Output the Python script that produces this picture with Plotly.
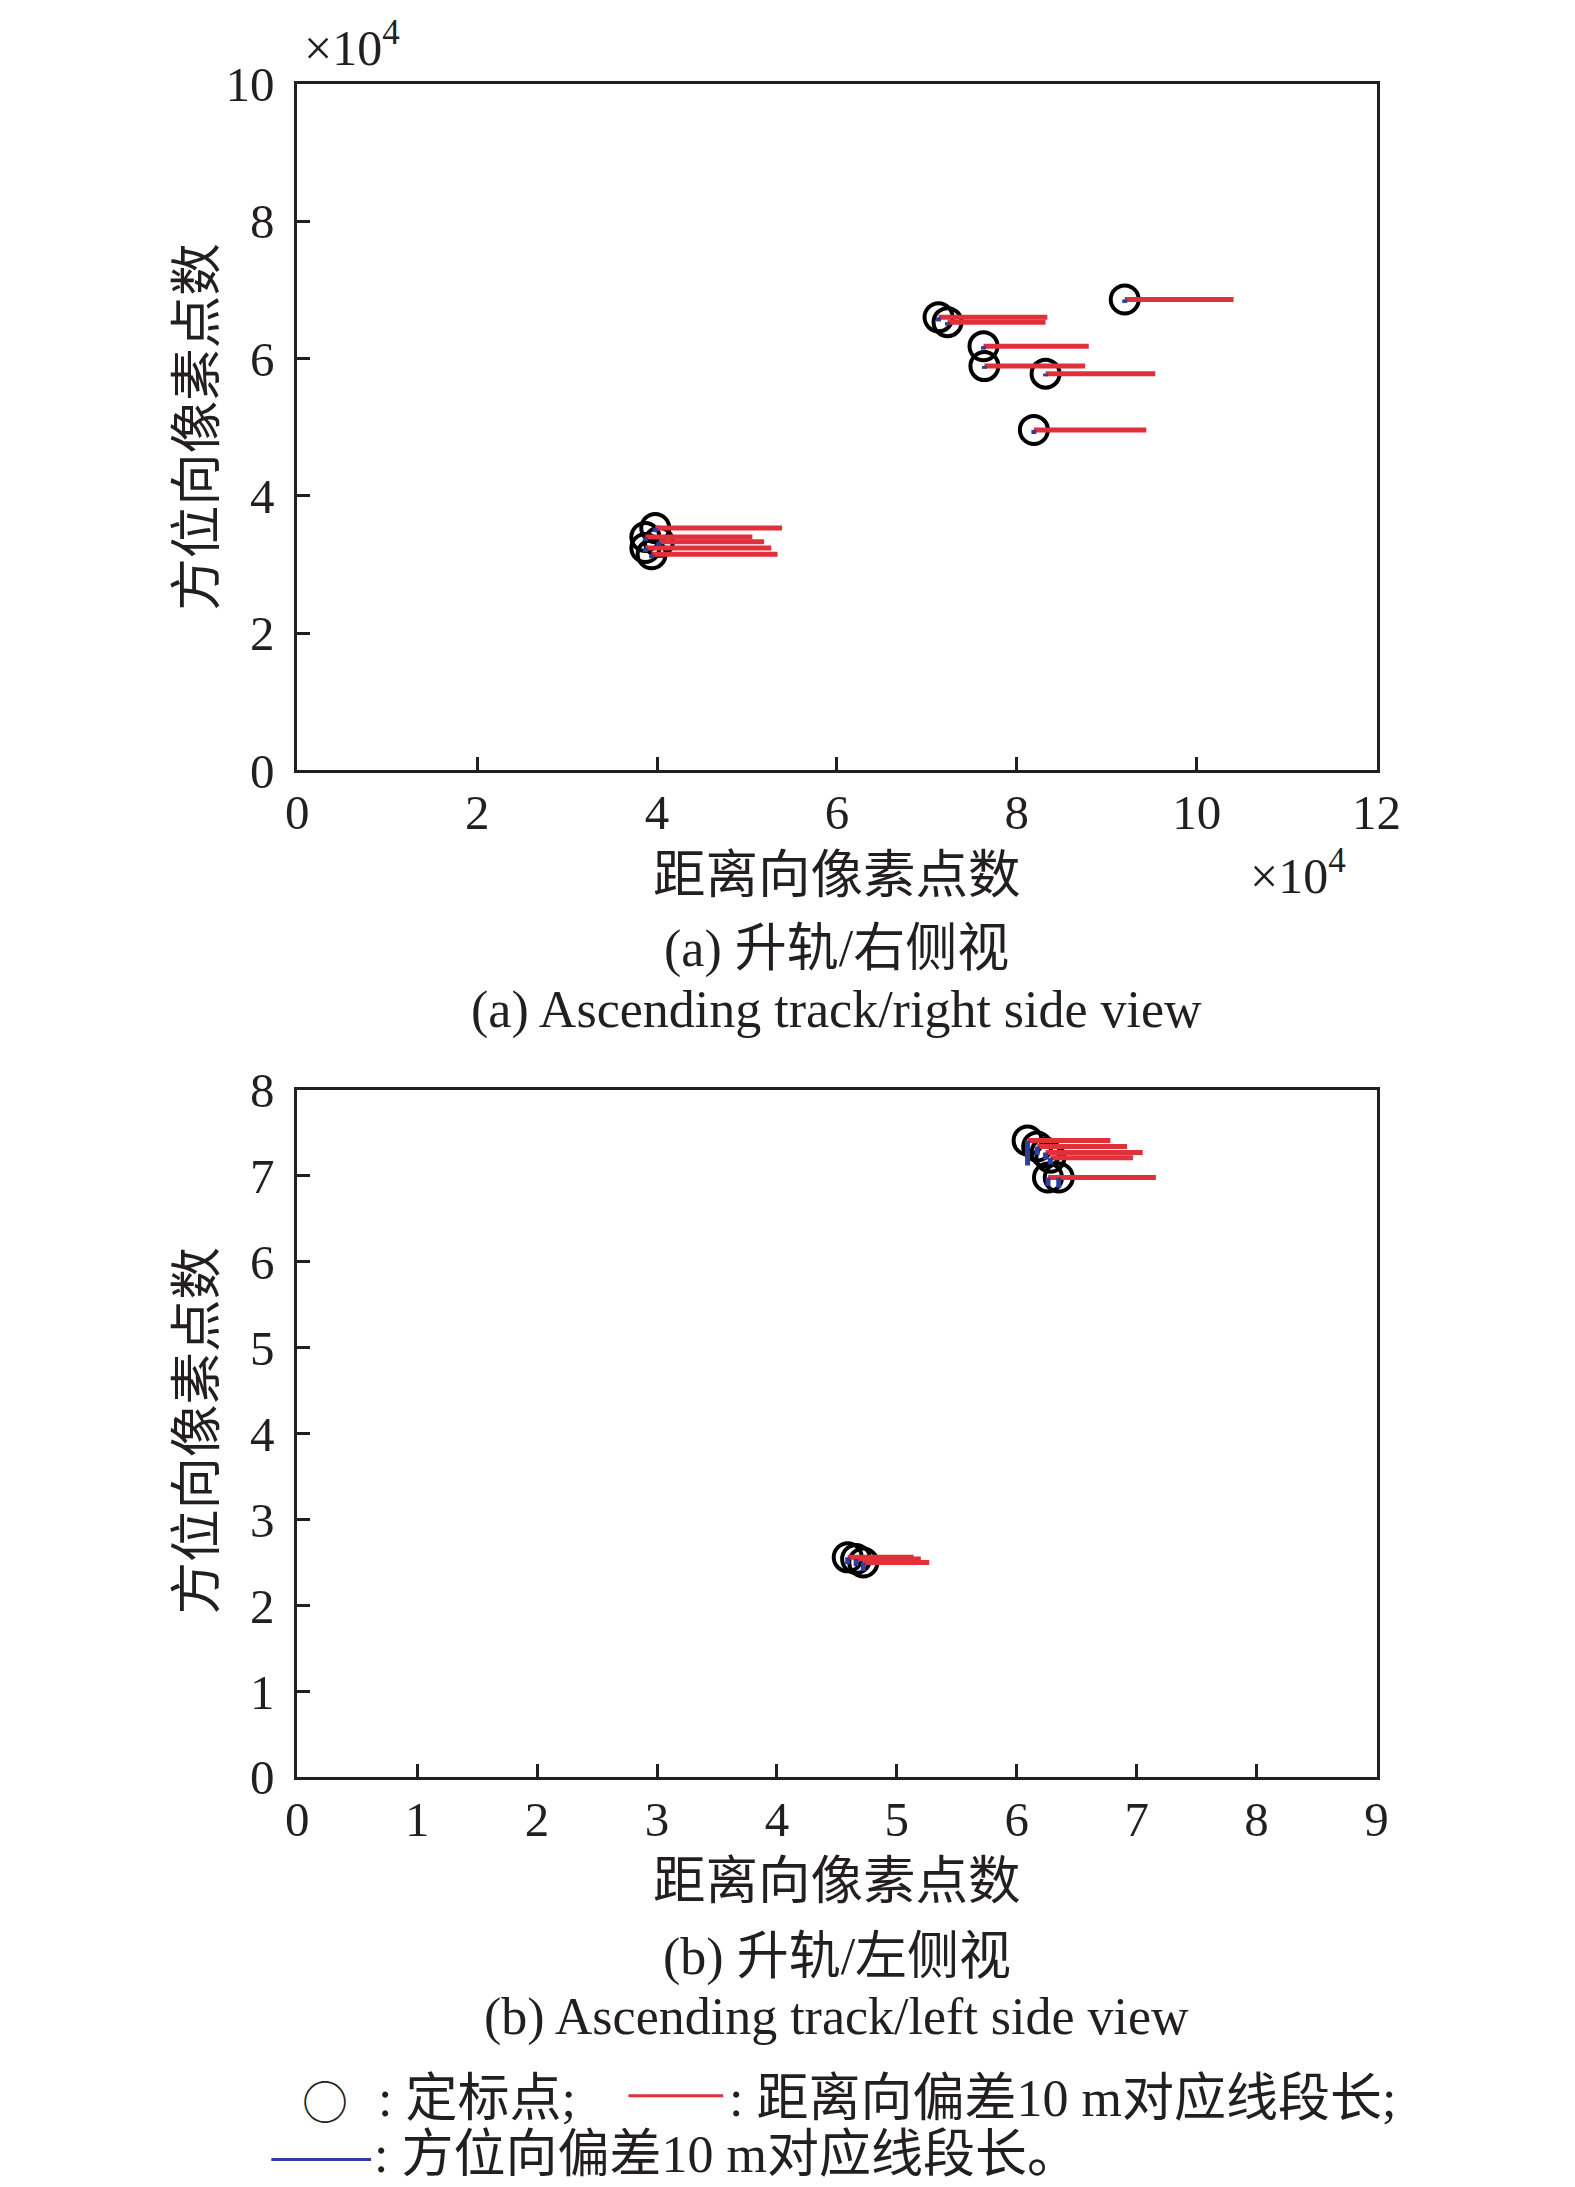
import plotly.graph_objects as go

W, H = 1575, 2240
# measured placement of the rendered page in the screenshot (offset, scale)
AX, AY = 17.0, 32.0
SX, SY = 0.979, 0.9775

# ---- Data: (a) ascending / right side view (units of 1e4 pixels) ----
a_x = [9.20, 7.13, 7.23, 7.63, 7.64, 8.32, 8.19, 3.98, 3.87, 4.02, 3.87, 3.94]
a_y = [6.86, 6.60, 6.53, 6.18, 5.89, 5.78, 4.96, 3.53, 3.40, 3.33, 3.24, 3.15]
a_range_len = [1.21, 1.21, 1.09, 1.17, 1.12, 1.22, 1.25, 1.41, 1.19, 1.17, 1.40, 1.40]
a_azim_len = [-0.05, -0.06, -0.05, -0.05, -0.04, -0.04, -0.06, -0.06, -0.06, -0.06, -0.06, -0.06]

# ---- Data: (b) ascending / left side view ----
b_x = [6.09, 6.17, 6.24, 6.28, 6.26, 6.35, 4.59, 4.66, 4.72]
b_y = [7.41, 7.34, 7.27, 7.21, 6.98, 6.98, 2.56, 2.54, 2.50]
b_range_len = [0.69, 0.75, 0.81, 0.69, 0.90, 0.70, 0.55, 0.54, 0.55]
b_azim_len = [-0.29, -0.10, -0.08, -0.08, -0.10, -0.12, -0.08, -0.08, -0.10]

a_xticks = [0, 2, 4, 6, 8, 10, 12]
a_yticks = [0, 2, 4, 6, 8, 10]
b_xticks = [0, 1, 2, 3, 4, 5, 6, 7, 8, 9]
b_yticks = [0, 1, 2, 3, 4, 5, 6, 7, 8]

RED = "#e0303a"
BLUE = "#2e3f9a"
INK = "#231f20"


def segs(xs, ys, dxs, dys):
    sx, sy = [], []
    for x, y, dx, dy in zip(xs, ys, dxs, dys):
        sx += [x, x + dx, None]
        sy += [y, y + dy, None]
    return sx, sy


fig = go.Figure()

for xs, ys, rl, al, xa, ya in [
    (a_x, a_y, a_range_len, a_azim_len, "x", "y"),
    (b_x, b_y, b_range_len, b_azim_len, "x2", "y2"),
]:
    fig.add_trace(go.Scatter(
        x=xs, y=ys, mode="markers", xaxis=xa, yaxis=ya,
        marker=dict(symbol="circle-open", size=28, color="black",
                    line=dict(width=4, color="black")),
        showlegend=False, cliponaxis=False))
    rx, ry = segs(xs, ys, rl, [0] * len(xs))
    fig.add_trace(go.Scatter(
        x=rx, y=ry, mode="lines", xaxis=xa, yaxis=ya,
        line=dict(color=RED, width=5), showlegend=False))
    bx, by = segs(xs, ys, [0] * len(xs), al)
    fig.add_trace(go.Scatter(
        x=bx, y=by, mode="lines", xaxis=xa, yaxis=ya,
        line=dict(color=BLUE, width=5), showlegend=False))


def pxp(tx, ty):
    """target picture position -> paper coordinates"""
    return ((tx - AX) / SX) / W, 1 - ((ty - AY) / SY) / H


xd = [pxp(295, 0)[0], pxp(1377, 0)[0]]
ya_dom = [pxp(0, 769)[1], pxp(0, 81)[1]]
yb_dom = [pxp(0, 1778)[1], pxp(0, 1089)[1]]

tickfont = dict(family="Liberation Serif", size=49, color=INK)
axis_common = dict(showline=True, linecolor=INK, linewidth=3, mirror=True,
                   ticks="inside", ticklen=13, tickwidth=2.5, tickcolor=INK,
                   showgrid=False, zeroline=False, tickfont=tickfont)

fig.update_layout(
    width=W, height=H, autosize=False,
    margin=dict(l=0, r=0, t=0, b=0),
    paper_bgcolor="white", plot_bgcolor="white",
    xaxis=dict(domain=xd, anchor="y", range=[0, 12], tickvals=a_xticks,
               ticktext=[str(v) for v in a_xticks], ticklabelstandoff=-3, **axis_common),
    yaxis=dict(domain=ya_dom, anchor="x", range=[0, 10], tickvals=a_yticks,
               ticktext=[str(v) for v in a_yticks], ticklabelstandoff=10, **axis_common),
    xaxis2=dict(domain=xd, anchor="y2", range=[0, 9], tickvals=b_xticks,
                ticktext=[str(v) for v in b_xticks], ticklabelstandoff=-3, **axis_common),
    yaxis2=dict(domain=yb_dom, anchor="x2", range=[0, 8], tickvals=b_yticks,
                ticktext=[str(v) for v in b_yticks], ticklabelstandoff=10, **axis_common),
)

MIX = "Liberation Serif, Noto Sans CJK SC"
ann = []


def text(px, py, s, size, angle=0, xanchor="center", family=MIX):
    x, y = pxp(px, py)
    ann.append(dict(x=x, y=y, xref="paper", yref="paper", text=s, showarrow=False,
                    xanchor=xanchor, yanchor="middle", textangle=angle,
                    font=dict(family=family, size=size, color=INK)))


# panel (a)
text(350, 42, "×10<sup>4</sup>", 50)
text(1298, 871, "×10<sup>4</sup>", 50)
text(836, 874, "距离向像素点数", 52.5)
text(195, 425, "方位向像素点数", 52.5, angle=-90)
text(836, 948, "(a) 升轨/右侧视", 52)
text(836, 1009, "(a) Ascending track/right side view", 52)
# panel (b)
text(836, 1882, "距离向像素点数", 52.5)
text(195, 1431, "方位向像素点数", 52.5, angle=-90)
text(836, 1958, "(b) 升轨/左侧视", 52)
text(836, 2018, "(b) Ascending track/left side view", 52)
# legend
text(323, 2100, "○", 46, family="Noto Sans CJK SC")
text(374, 2100, ": 定标点;", 52, xanchor="left")
text(726, 2100, ": 距离向偏差10 m对应线段长;", 52, xanchor="left")
text(370, 2156, ": 方位向偏差10 m对应线段长。", 52, xanchor="left")

fig.update_layout(annotations=ann)

shapes = []
for (x0, x1, py, col) in [(627, 722, 2097, RED), (269, 369, 2161, BLUE)]:
    xp0, yp = pxp(x0, py)
    xp1, _ = pxp(x1, py)
    shapes.append(dict(type="line", xref="paper", yref="paper",
                       x0=xp0, x1=xp1, y0=yp, y1=yp,
                       line=dict(color=col, width=3)))
fig.update_layout(shapes=shapes)

fig.write_html("out.html")
